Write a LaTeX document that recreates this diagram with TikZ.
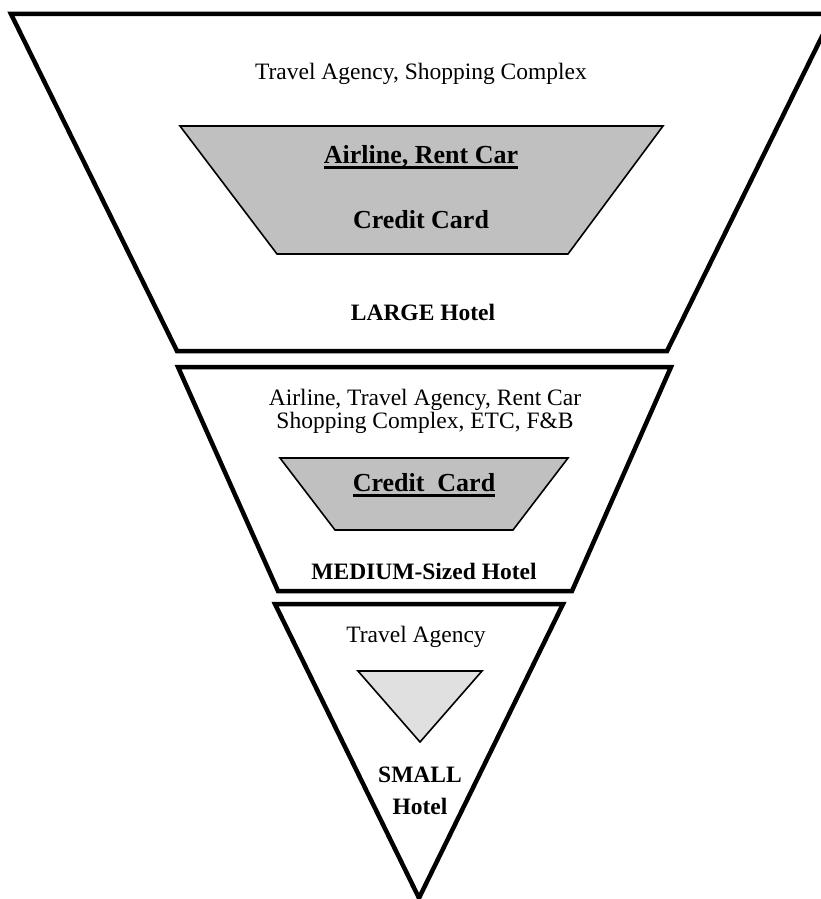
\documentclass[tikz,border=0pt]{standalone}
\usepackage{fontspec}
\setmainfont{Liberation Serif}
\newcommand\thickul[1]{\setbox0\hbox{#1}\rlap{\vrule height -3pt depth 5.5pt width \wd0}\box0}
\begin{document}
\begin{tikzpicture}[x=1pt,y=-1pt,
  outer/.style={draw=black,line width=4.5pt,line join=miter},
  inner/.style={draw=black,line width=1.6pt,line join=miter},
  midgray/.style={fill={rgb,255:red,192;green,192;blue,192}},
  lightgray/.style={fill={rgb,255:red,224;green,224;blue,224}},
  lbl/.style={anchor=base,inner sep=0pt,font=\fontsize{23.5}{23.5}\selectfont},
  blbl/.style={anchor=base,inner sep=0pt,font=\fontsize{23.5}{23.5}\selectfont\bfseries},
  big/.style={anchor=base,inner sep=0pt,font=\fontsize{26}{26}\selectfont\bfseries}]
\useasboundingbox (0,0) rectangle (821,899);
\clip (0,0) rectangle (821,899);
% LARGE hotel
\draw[outer] (11,14) -- (833,14) -- (667,351) -- (177,351) -- cycle;
\draw[inner,midgray] (180,126) -- (663,126) -- (568,254) -- (277,254) -- cycle;
\node[lbl] (l1) at (421,80) {Travel Agency, Shopping Complex};
\node[big] (l2) at (421,163) {\thickul{Airline, Rent Car}};
\node[big] (l3) at (421,228) {Credit Card};
\node[blbl] (l4) at (423,320) {LARGE Hotel};
% MEDIUM hotel
\draw[outer] (178,367) -- (671,367) -- (572,591) -- (278,591) -- cycle;
\draw[inner,midgray] (280,458) -- (568,458) -- (513,530) -- (335,530) -- cycle;
\node[lbl] (m1) at (425,405) {Airline, Travel Agency, Rent Car};
\node[lbl] (m2) at (425,428) {Shopping Complex, ETC, F\&B};
\node[big] (m3) at (424,491) {\thickul{Credit\ \ Card}};
\node[blbl] (m4) at (424,579) {MEDIUM-Sized Hotel};
% SMALL hotel
\draw[outer] (275,604) -- (563,604) -- (419,898) -- cycle;
\draw[inner,lightgray] (358,671) -- (482,671) -- (420,742) -- cycle;
\node[lbl] (s1) at (416,642) {Travel Agency};
\node[blbl] (s2) at (420,782) {SMALL};
\node[blbl] (s3) at (420,814) {Hotel};
\end{tikzpicture}
\end{document}
